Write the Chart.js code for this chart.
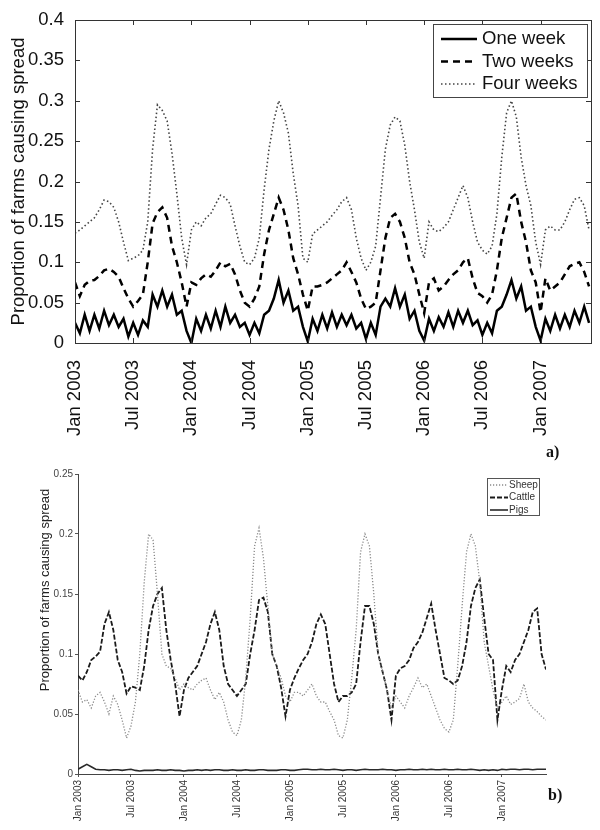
<!DOCTYPE html>
<html>
<head>
<meta charset="utf-8">
<script src="https://cdn.jsdelivr.net/npm/chart.js@4.4.0/dist/chart.umd.min.js"></script>
<style>
  body { margin: 0; background: #fff; }
  #page { position: relative; width: 600px; height: 830px; overflow: hidden; }
  .panel { position: absolute; left: 0; }
  .tag { position: absolute; font: bold 16px "Liberation Serif", serif; color: #111; }
</style>
</head>
<body>
<div id="page">
  <div class="panel" style="top:0"><canvas id="topChart" width="600" height="440"></canvas></div>
  <div class="panel" style="top:440px"><canvas id="bottomChart" width="600" height="390"></canvas></div>
  <div class="tag" style="left:546px; top:443px">a)</div>
  <div class="tag" style="left:548px; top:786px">b)</div>
</div>
<script>
// x axis: months since Jan 2003, one value every half month
const monthStep = 0.5;
const tickMonths = [0, 6, 12, 18, 24, 30, 36, 42, 48];
const tickLabels = ['Jan 2003', 'Jul 2003', 'Jan 2004', 'Jul 2004', 'Jan 2005', 'Jul 2005', 'Jan 2006', 'Jul 2006', 'Jan 2007'];
const topYTicks = [0, 0.05, 0.1, 0.15, 0.2, 0.25, 0.3, 0.35, 0.4];
const bottomYTicks = [0, 0.05, 0.1, 0.15, 0.2, 0.25];

// panel a) - time window
const oneWeek = [
  0.025, 0.012, 0.035, 0.015, 0.035, 0.018, 0.04, 0.022, 0.035, 0.02, 0.03, 0.008,
  0.025, 0.01, 0.028, 0.02, 0.06, 0.045, 0.065, 0.045, 0.06, 0.035, 0.04, 0.015,
  0.0, 0.03, 0.015, 0.035, 0.018, 0.04, 0.02, 0.045, 0.025, 0.035, 0.02, 0.025,
  0.01, 0.025, 0.012, 0.035, 0.04, 0.055, 0.078, 0.05, 0.065, 0.04, 0.045, 0.02,
  0.002, 0.03, 0.015, 0.035, 0.018, 0.038, 0.02, 0.035, 0.022, 0.035, 0.018, 0.025,
  0.005, 0.025, 0.01, 0.045, 0.055, 0.045, 0.068, 0.045, 0.06, 0.03, 0.04, 0.015,
  0.003, 0.03, 0.015, 0.032, 0.02, 0.038, 0.02, 0.04, 0.025, 0.04, 0.022, 0.028,
  0.01, 0.025, 0.012, 0.04, 0.045, 0.06, 0.078, 0.055, 0.07, 0.04, 0.045, 0.02,
  0.003, 0.03, 0.015, 0.035, 0.018, 0.035, 0.02, 0.04, 0.025, 0.045, 0.025
];
const twoWeeks = [
  0.075, 0.058, 0.072, 0.077, 0.078, 0.083, 0.09, 0.092, 0.088, 0.082, 0.068, 0.055,
  0.045, 0.052, 0.06, 0.1, 0.148, 0.162, 0.168, 0.155, 0.12, 0.1, 0.075, 0.045,
  0.075, 0.072, 0.08, 0.085, 0.082, 0.09, 0.1, 0.095, 0.098, 0.085, 0.065, 0.05,
  0.045, 0.055, 0.07, 0.11, 0.14, 0.16, 0.18, 0.165, 0.14, 0.105, 0.085, 0.06,
  0.04, 0.07, 0.07, 0.072, 0.075, 0.08, 0.085, 0.09, 0.1, 0.088, 0.075, 0.055,
  0.042, 0.045, 0.05, 0.09, 0.13, 0.155, 0.16, 0.15, 0.13, 0.1, 0.085, 0.06,
  0.037, 0.075, 0.08, 0.065, 0.07, 0.078, 0.085, 0.09, 0.1, 0.105, 0.08, 0.062,
  0.058, 0.05, 0.06, 0.09, 0.13, 0.155, 0.18, 0.185, 0.15, 0.125, 0.09, 0.075,
  0.038, 0.08, 0.065, 0.07, 0.075, 0.085, 0.095, 0.098, 0.1, 0.088, 0.07
];
const fourWeeks = [
  0.136, 0.14, 0.145, 0.15, 0.155, 0.165, 0.177, 0.175, 0.168, 0.15, 0.125, 0.102,
  0.105, 0.108, 0.115, 0.15, 0.24, 0.295, 0.288, 0.275, 0.235, 0.185, 0.13, 0.097,
  0.14, 0.15, 0.145, 0.155, 0.16, 0.172, 0.183, 0.18, 0.172, 0.145, 0.12, 0.1,
  0.097, 0.105, 0.13, 0.19, 0.24, 0.275, 0.3, 0.285, 0.26, 0.21, 0.17, 0.105,
  0.1, 0.135, 0.14, 0.145, 0.15, 0.158, 0.165, 0.175, 0.18, 0.165, 0.13, 0.105,
  0.09, 0.1, 0.12, 0.18, 0.24, 0.27, 0.28, 0.275, 0.245, 0.2, 0.165, 0.125,
  0.105, 0.15, 0.14, 0.138, 0.143, 0.15, 0.165, 0.18, 0.195, 0.18, 0.15, 0.125,
  0.115, 0.11, 0.12, 0.16, 0.23, 0.285, 0.3, 0.28, 0.23, 0.195, 0.17, 0.125,
  0.097, 0.14, 0.145, 0.14, 0.14, 0.15, 0.165, 0.178, 0.18, 0.17, 0.14
];

// panel b) - species
const sheep = [
  0.07, 0.06, 0.062, 0.055, 0.065, 0.068, 0.06, 0.05, 0.065, 0.058, 0.045, 0.03,
  0.04, 0.06, 0.1, 0.16, 0.2, 0.195, 0.15, 0.1, 0.09, 0.088, 0.08, 0.07,
  0.075, 0.072, 0.07, 0.075, 0.078, 0.08, 0.07, 0.062, 0.068, 0.06, 0.045, 0.035,
  0.032, 0.045, 0.08, 0.13, 0.19, 0.205, 0.18, 0.14, 0.1, 0.09, 0.08, 0.065,
  0.06, 0.068, 0.068, 0.065, 0.07, 0.075, 0.065, 0.06, 0.06, 0.052, 0.045, 0.032,
  0.03, 0.045, 0.08, 0.12, 0.185, 0.2, 0.19, 0.15, 0.1, 0.085, 0.07, 0.055,
  0.065, 0.06, 0.055, 0.065, 0.072, 0.08, 0.072, 0.075, 0.065, 0.055, 0.045, 0.038,
  0.035, 0.045, 0.09, 0.14, 0.185, 0.2, 0.19, 0.16, 0.11, 0.09, 0.07, 0.055,
  0.06, 0.065, 0.058, 0.06, 0.063, 0.075, 0.06, 0.055, 0.052, 0.048, 0.045
];
const cattle = [
  0.082, 0.078, 0.085, 0.095, 0.098, 0.102, 0.125, 0.135, 0.12, 0.095, 0.085, 0.067,
  0.073, 0.072, 0.07, 0.09, 0.12, 0.14, 0.15, 0.155, 0.12, 0.095, 0.075, 0.048,
  0.07, 0.08, 0.085, 0.09, 0.1, 0.11, 0.125, 0.135, 0.12, 0.09, 0.075, 0.07,
  0.065, 0.07, 0.075, 0.1, 0.12, 0.145, 0.147, 0.135, 0.1, 0.09, 0.072, 0.048,
  0.07, 0.08, 0.088, 0.095, 0.1, 0.11, 0.125, 0.133, 0.125, 0.1, 0.075, 0.06,
  0.065, 0.065, 0.068, 0.075, 0.11, 0.14, 0.14, 0.125, 0.1, 0.085, 0.07, 0.045,
  0.082, 0.088, 0.09, 0.095, 0.105, 0.11, 0.118, 0.13, 0.142, 0.12, 0.1, 0.08,
  0.078, 0.075, 0.078, 0.09, 0.11, 0.14, 0.155, 0.162, 0.13, 0.1, 0.095, 0.045,
  0.07, 0.09, 0.085, 0.095, 0.1, 0.11, 0.12, 0.135, 0.138, 0.1, 0.087
];
const pigs = [
  0.004, 0.006, 0.008, 0.006, 0.004, 0.0035, 0.0035, 0.003, 0.0035, 0.0035, 0.003, 0.0035,
  0.004, 0.003, 0.0025, 0.003, 0.003, 0.003, 0.0035, 0.003, 0.003, 0.0035, 0.003, 0.003,
  0.0025, 0.003, 0.003, 0.0035, 0.003, 0.0035, 0.003, 0.0035, 0.0035, 0.003, 0.003, 0.0035,
  0.003, 0.003, 0.0035, 0.003, 0.003, 0.0035, 0.0035, 0.003, 0.003, 0.003, 0.0035, 0.0035,
  0.003, 0.003, 0.0035, 0.004, 0.004, 0.0035, 0.0035, 0.004, 0.0035, 0.0035, 0.004, 0.0035,
  0.003, 0.0035, 0.0035, 0.003, 0.0035, 0.004, 0.0035, 0.0035, 0.0035, 0.004, 0.0035, 0.0035,
  0.003, 0.0035, 0.0035, 0.004, 0.0035, 0.0035, 0.004, 0.0035, 0.004, 0.0035, 0.0035, 0.004,
  0.0035, 0.0035, 0.004, 0.0035, 0.0035, 0.004, 0.0035, 0.003, 0.0035, 0.003, 0.0035, 0.003,
  0.004, 0.0035, 0.004, 0.004, 0.0035, 0.004, 0.004, 0.0035, 0.004, 0.004, 0.004
];

const sans = '"Liberation Sans", Arial, sans-serif';

function toPoints(values) {
    return values.map((v, i) => ({ x: i * monthStep, y: v }));
}

function lineSet(label, values, color, width, dash) {
    return {
        label: label,
        data: toPoints(values),
        borderColor: color,
        borderWidth: width,
        borderDash: dash,
        pointRadius: 0,
        tension: 0,
        fill: false
    };
}

// matlab style box with inward ticks (panel a)
const boxTicks = {
    id: 'boxTicks',
    afterDraw(chart) {
        const { ctx, chartArea: a, scales } = chart;
        const len = 5;
        ctx.save();
        ctx.strokeStyle = '#333';
        ctx.lineWidth = 1;
        ctx.setLineDash([]);
        ctx.strokeRect(a.left + 0.5, a.top + 0.5, a.width, a.height);
        ctx.beginPath();
        scales.x.ticks.forEach(t => {
            const px = Math.round(scales.x.getPixelForValue(t.value)) + 0.5;
            ctx.moveTo(px, a.bottom); ctx.lineTo(px, a.bottom - len);
            ctx.moveTo(px, a.top); ctx.lineTo(px, a.top + len);
        });
        scales.y.ticks.forEach(t => {
            const py = Math.round(scales.y.getPixelForValue(t.value)) + 0.5;
            ctx.moveTo(a.left, py); ctx.lineTo(a.left + len, py);
            ctx.moveTo(a.right, py); ctx.lineTo(a.right - len, py);
        });
        ctx.stroke();
        ctx.restore();
    }
};

// boxed legend drawn from the dataset styles
const boxLegend = {
    id: 'boxLegend',
    afterDraw(chart, args, o) {
        const ctx = chart.ctx;
        ctx.save();
        ctx.fillStyle = '#fff';
        ctx.fillRect(o.x, o.y, o.w, o.h);
        ctx.strokeStyle = o.border;
        ctx.lineWidth = 1;
        ctx.setLineDash([]);
        ctx.strokeRect(o.x + 0.5, o.y + 0.5, o.w, o.h);
        ctx.font = o.font;
        ctx.textBaseline = 'middle';
        chart.data.datasets.forEach((ds, i) => {
            const cy = o.y + o.firstRow + i * o.rowH;
            ctx.strokeStyle = ds.borderColor;
            ctx.lineWidth = ds.borderWidth;
            ctx.setLineDash(ds.borderDash || []);
            ctx.beginPath();
            ctx.moveTo(o.x + o.lineX, cy);
            ctx.lineTo(o.x + o.lineX + o.lineLen, cy);
            ctx.stroke();
            ctx.fillStyle = o.color;
            ctx.fillText(ds.label, o.x + o.textX, cy);
        });
        ctx.restore();
    }
};

// free placed vertical axis title (panel b)
const sideTitle = {
    id: 'sideTitle',
    afterDraw(chart, args, o) {
        if (!o.text) return;
        const ctx = chart.ctx;
        ctx.save();
        ctx.translate(o.x, o.y);
        ctx.rotate(-Math.PI / 2);
        ctx.font = o.font;
        ctx.fillStyle = o.color;
        ctx.textAlign = 'center';
        ctx.textBaseline = 'middle';
        ctx.fillText(o.text, 0, 0);
        ctx.restore();
    }
};

new Chart(document.getElementById('topChart'), {
    type: 'line',
    data: {
        datasets: [
            lineSet('One week', oneWeek, '#000', 2.5, []),
            lineSet('Two weeks', twoWeeks, '#000', 2.5, [7, 5]),
            lineSet('Four weeks', fourWeeks, '#444', 1.6, [1.5, 2.5])
        ]
    },
    options: {
        responsive: false,
        animation: false,
        layout: { padding: { top: 20, right: 9, left: 0, bottom: 0 } },
        plugins: {
            legend: { display: false },
            tooltip: { enabled: false },
            boxLegend: {
                x: 433, y: 24, w: 154, h: 73, firstRow: 15, rowH: 22.5,
                lineX: 8, lineLen: 36, textX: 49,
                font: '18.5px ' + sans, color: '#111', border: '#444'
            }
        },
        scales: {
            x: {
                type: 'linear', min: 0, max: 53.2,
                afterBuildTicks: s => { s.ticks = tickMonths.map(v => ({ value: v })); },
                afterFit: s => { s.height = 97; },
                grid: { display: false },
                border: { display: false },
                ticks: {
                    autoSkip: false, minRotation: 90, maxRotation: 90, padding: 9,
                    color: '#111', font: { family: sans, size: 18.5 },
                    callback: (v, i) => tickLabels[i]
                }
            },
            y: {
                min: 0, max: 0.4,
                afterBuildTicks: s => { s.ticks = topYTicks.map(v => ({ value: v })); },
                afterFit: s => { s.width = 75; },
                grid: { display: false },
                border: { display: false },
                ticks: {
                    padding: 3, color: '#111', font: { family: sans, size: 18.5 },
                    callback: v => String(+v.toFixed(2))
                },
                title: {
                    display: true, text: 'Proportion of farms causing spread',
                    color: '#111', font: { family: sans, size: 18.5 },
                    padding: { top: 8, bottom: 0 }
                }
            }
        }
    },
    plugins: [boxTicks, boxLegend]
});

new Chart(document.getElementById('bottomChart'), {
    type: 'line',
    data: {
        datasets: [
            lineSet('Sheep', sheep, '#8a8a8a', 1.3, [1.2, 1.8]),
            lineSet('Cattle', cattle, '#1a1a1a', 1.8, [5, 2]),
            lineSet('Pigs', pigs, '#2a2a2a', 1.6, [])
        ]
    },
    options: {
        responsive: false,
        animation: false,
        layout: { padding: { top: 34, right: 54, left: 0, bottom: 0 } },
        plugins: {
            legend: { display: false },
            tooltip: { enabled: false },
            boxLegend: {
                x: 487, y: 38, w: 52, h: 37, firstRow: 7, rowH: 12.5,
                lineX: 3, lineLen: 18, textX: 22,
                font: '10px ' + sans, color: '#333', border: '#555'
            },
            sideTitle: {
                text: 'Proportion of farms causing spread',
                x: 45, y: 150, font: '13px ' + sans, color: '#222'
            }
        },
        scales: {
            x: {
                type: 'linear', min: 0, max: 53,
                afterBuildTicks: s => { s.ticks = tickMonths.map(v => ({ value: v })); },
                afterFit: s => { s.height = 56; },
                grid: { drawOnChartArea: false, tickLength: 3, color: '#555' },
                border: { display: true, color: '#444', width: 1 },
                ticks: {
                    autoSkip: false, minRotation: 90, maxRotation: 90, padding: 3,
                    color: '#333', font: { family: sans, size: 10 },
                    callback: (v, i) => tickLabels[i]
                }
            },
            y: {
                min: 0, max: 0.25,
                afterBuildTicks: s => { s.ticks = bottomYTicks.map(v => ({ value: v })); },
                afterFit: s => { s.width = 78; },
                grid: { drawOnChartArea: false, tickLength: 3, color: '#555' },
                border: { display: true, color: '#444', width: 1 },
                ticks: {
                    padding: 2, color: '#444', font: { family: sans, size: 10 },
                    callback: v => String(+v.toFixed(2))
                }
            }
        }
    },
    plugins: [boxLegend, sideTitle]
});
</script>
</body>
</html>
